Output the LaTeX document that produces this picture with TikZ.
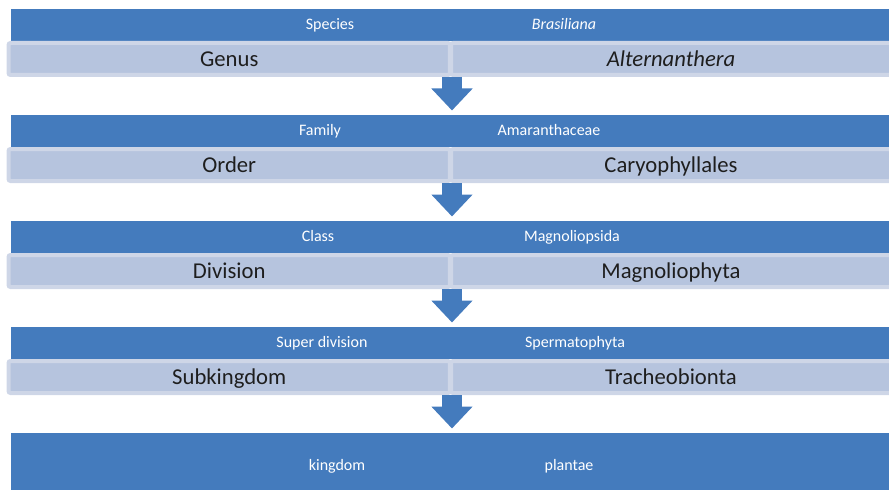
\documentclass[tikz,border=0pt]{standalone}
\usepackage{fontspec}
\setmainfont{Carlito}
\usetikzlibrary{arrows.meta}
\definecolor{rankblue}{RGB}{68,123,189}
\definecolor{barfill}{RGB}{182,196,222}
\definecolor{barrim}{RGB}{206,214,231}
\definecolor{bartext}{RGB}{30,30,30}

\tikzset{
    rankband/.style={rectangle,fill=rankblue,anchor=north west,inner sep=0pt,minimum width=658.5pt,minimum height=24.4pt},
    taxbar/.style={rectangle,fill=barfill,draw=barrim,line width=3pt,rounded corners=1.5pt,minimum height=24pt,
        text=bartext,text height=14pt,text depth=3pt,font=\fontsize{17}{20}\selectfont},
    downarrow/.style={draw=rankblue,line width=15pt,-{Triangle[width=30pt,length=16.5pt]},shorten >=3pt}
}

\begin{document}
\begin{tikzpicture}[x=0.75pt,y=-0.75pt]

    \useasboundingbox (0,0) rectangle (889,492);

    % dark rank bands
    \node[rankband] (speciesband) at (11,8.5) {};
    \node[rankband] (familyband) at (11,114.5) {};
    \node[rankband] (classband) at (11,220.5) {};
    \node[rankband] (superband) at (11,326.5) {};
    \node[rankband,minimum height=43.1pt] (kingdomband) at (11,432.5) {};

    % light bars, split in two halves
    \begin{scope}[every node/.style={taxbar}]
        \node[minimum width=331.1pt] (genusbar) at (229.25,59) {Genus};
        \node[minimum width=330pt] (genusval) at (671,59) {\itshape Alternanthera};
        \node[minimum width=331.1pt] (orderbar) at (229.25,165) {Order};
        \node[minimum width=330pt] (orderval) at (671,165) {Caryophyllales};
        \node[minimum width=331.1pt] (divisionbar) at (229.25,271) {Division};
        \node[minimum width=330pt] (divisionval) at (671,271) {Magnoliophyta};
        \node[minimum width=331.1pt] (subkingbar) at (229.25,377) {Subkingdom};
        \node[minimum width=330pt] (subkingval) at (671,377) {Tracheobionta};
    \end{scope}

    % labels on the dark bands
    \begin{scope}[every node/.style={text=white,inner sep=0pt,text height=9.5pt,text depth=1.7pt,font=\fontsize{12}{14}\selectfont}]
        \node (speciesname) at (330,24.75) {Species};
        \node (speciesval) at (564,24.75) {\itshape Brasiliana};
        \node (familyname) at (320,130.75) {Family};
        \node (familyval) at (549,130.75) {Amaranthaceae};
        \node (classname) at (318,236.75) {Class};
        \node (classval) at (572,236.75) {Magnoliopsida};
        \node (supername) at (322,342.75) {Super division};
        \node (superval) at (575,342.75) {Spermatophyta};
        \node (kingdomname) at (337,465) {kingdom};
        \node (kingdomval) at (569,465) {plantae};
    \end{scope}

    % block arrows down to the next rank
    \draw[downarrow] (genusbar.south east) -- (familyband.north -| genusbar.south east);
    \draw[downarrow] (orderbar.south east) -- (classband.north -| orderbar.south east);
    \draw[downarrow] (divisionbar.south east) -- (superband.north -| divisionbar.south east);
    \draw[downarrow] (subkingbar.south east) -- (kingdomband.north -| subkingbar.south east);

\end{tikzpicture}
\end{document}
